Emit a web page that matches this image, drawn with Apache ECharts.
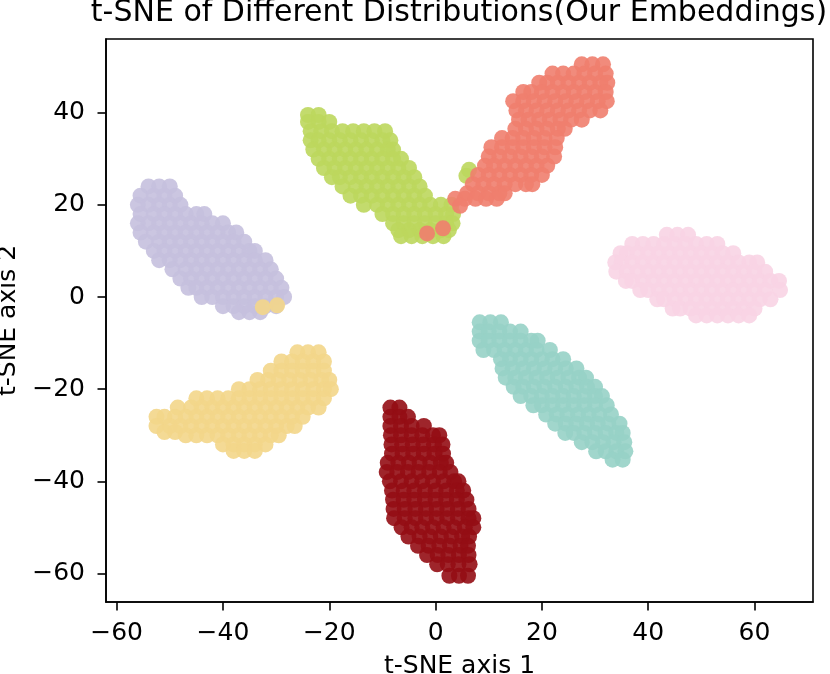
<!DOCTYPE html>
<html>
<head>
<meta charset="utf-8">
<script src="https://cdn.jsdelivr.net/npm/echarts@6/dist/echarts.min.js"></script>
<style>
  html, body { margin: 0; padding: 0; background: #fff; }
  #chart { width: 830px; height: 674px; }
</style>
</head>
<body>
<div id="chart"></div>
<script>
// Axis ticks
const xTicks = [-60, -40, -20, 0, 20, 40, 60];
const yTicks = [-60, -40, -20, 0, 20, 40];

// Clusters: each row is [y, [x, x, ...]]
const lavenderRows = [
	[24, [-54, -52, -50]],
	[22, [-55.5, -53, -51, -49]],
	[20, [-56, -54, -52, -50, -48]],
	[18, [-55.5, -53, -51, -49, -47, -45, -43.5]],
	[16, [-56, -54, -52, -50, -48, -46, -44, -42, -40]],
	[14, [-55.5, -53, -51, -49, -47, -45, -43, -41, -39, -37.5]],
	[12, [-54.5, -52, -50, -48, -46, -44, -42, -40, -38, -36]],
	[10, [-53, -51, -49, -47, -45, -43, -41, -39, -37, -35, -34]],
	[8, [-52, -50, -48, -46, -44, -42, -40, -38, -36, -34, -32]],
	[6, [-49.5, -47, -45, -43, -41, -39, -37, -35, -33, -31]],
	[4, [-48, -46, -44, -42, -40, -38, -36, -34, -32, -30]],
	[2, [-46.5, -45, -43, -41, -39, -37, -35, -33, -31, -29]],
	[0, [-44, -42, -40, -38, -36, -34, -32, -30, -28.5]],
	[-2, [-40, -38, -36, -34, -32, -30]],
	[-3.3, [-37, -35, -33]]
];

const yellowRows = [
	[-12, [-26, -24, -22]],
	[-14, [-29, -27, -25, -23, -21]],
	[-16, [-31, -29, -27, -25, -23, -21]],
	[-18, [-33.5, -31.5, -29.5, -27.5, -25.5, -23.5, -21.5, -20]],
	[-20, [-37, -35, -33, -31, -29, -27, -25, -23, -21, -19.7]],
	[-22, [-45, -43, -41, -39, -37, -35, -33, -31, -29, -27, -25, -23, -21]],
	[-24, [-48.5, -46, -44, -42, -40, -38, -36, -34, -32, -30, -28, -26, -24, -22]],
	[-26, [-52.5, -51, -49, -47, -45, -43, -41, -39, -37, -35, -33, -31, -29, -27, -25]],
	[-28, [-52.5, -50, -48, -46, -44, -42, -40, -38, -36, -34, -32, -30, -28, -26.5]],
	[-29.3, [-51, -49]],
	[-30, [-47, -45, -43, -41, -39, -37, -35, -33, -31, -29.5]],
	[-32, [-40, -38, -36, -34, -32]],
	[-33.4, [-38, -36, -34]]
];
// a few yellow points sitting inside the lavender cluster
const yellowStray = [[-32.5, -2.2], [-29.8, -1.8]];

const greenRows = [
	[39.5, [-24, -22]],
	[38, [-24, -22, -20]],
	[36, [-23.5, -21.5, -19.5, -17.5, -15.5, -13.5, -11.5, -9.5]],
	[34, [-23.5, -22, -20, -18, -16, -14, -12, -10, -8.5]],
	[32, [-23, -21, -19, -17, -15, -13, -11, -9, -8]],
	[30, [-22, -20, -18, -16, -14, -12, -10, -8, -6.5]],
	[28, [-21, -19, -17, -15, -13, -11, -9, -7, -5]],
	[26, [-19.5, -18, -16, -14, -12, -10, -8, -6, -4]],
	[24, [-17.5, -15, -13, -11, -9, -7, -5, -3]],
	[22, [-16, -14, -12, -10, -8, -6, -4, -2]],
	[20, [-13.5, -11, -9, -7, -5, -3, -1, 1, 3]],
	[18, [-10, -8, -6, -4, -2, 0, 2, 3.3]],
	[16, [-8, -6, -4, -2, 0, 2, 3.2]],
	[14.5, [-7, -5, -3, -1, 1, 2.5]],
	[13.2, [-6.5, -4.5, -2.5, -0.5, 1.5]]
];
// green points peeking out from behind the salmon cluster
const greenStray = [[5.8, 26.3], [6.3, 27.6]];

const salmonRows = [
	[50.5, [27.5, 29.5, 31.5]],
	[48.5, [22, 24, 26, 28, 30, 32]],
	[46.5, [19.5, 21, 23, 25, 27, 29, 31, 32.3]],
	[44.5, [16.5, 18, 20, 22, 24, 26, 28, 30, 32]],
	[42.5, [14.6, 16.5, 18.5, 20.5, 22.5, 24.5, 26.5, 28.5, 30.5, 32.2]],
	[40.5, [15.2, 17, 19, 21, 23, 25, 27, 29, 31]],
	[38.5, [15.7, 17.5, 19.5, 21.5, 23.5, 25.5, 27.5]],
	[36.5, [15, 17, 19, 21, 23, 24.3]],
	[34.5, [12.5, 14.5, 16.5, 18.5, 20.5, 22.8]],
	[32.5, [10.5, 12.5, 14.5, 16.5, 18.5, 20.5, 22.5]],
	[30.5, [10, 12, 14, 16, 18, 20, 22.3]],
	[28.5, [9.3, 11, 13, 15, 17, 19, 21]],
	[26.5, [8, 10, 12, 14, 16, 18, 20]],
	[24.5, [7, 9, 11, 13, 15, 17, 18.2]],
	[22.5, [5.9, 8, 10, 12, 13]],
	[21.3, [3.7, 5.5, 7.5, 9.5, 11.5]],
	[19.8, [4.6]]
];
// salmon points lying on the green cluster
const salmonStray = [[-1.6, 13.8], [1.4, 14.9]];

const pinkRows = [
	[13.5, [43.5, 45.5, 47.5]],
	[11.5, [37, 39, 41, 43, 45, 47, 49, 51, 53]],
	[9.5, [34.8, 36, 38, 40, 42, 44, 46, 48, 50, 52, 54, 56]],
	[7.5, [33.8, 35, 37, 39, 41, 43, 45, 47, 49, 51, 53, 55, 57, 59, 60.5]],
	[5.5, [34, 36, 38, 40, 42, 44, 46, 48, 50, 52, 54, 56, 58, 60, 62]],
	[3.5, [35.8, 37, 39, 41, 43, 45, 47, 49, 51, 53, 55, 57, 59, 61, 63, 64.6]],
	[1.5, [38.5, 40, 42, 44, 46, 48, 50, 52, 54, 56, 58, 60, 62, 64.8]],
	[-0.5, [41.7, 43, 45, 47, 49, 51, 53, 55, 57, 59, 61, 63]],
	[-2.5, [44.6, 46, 48, 50, 52, 54, 56, 58, 60]],
	[-4, [49, 51, 53, 55, 57, 59]]
];

const tealRows = [
	[-5.5, [8.3, 10.3, 12.3]],
	[-7.5, [8.3, 10, 12, 14, 16]],
	[-9.5, [8.3, 10, 12, 14, 16, 18, 19.2]],
	[-11.5, [9, 11, 13, 15, 17, 19, 21.5]],
	[-13.5, [12.3, 14, 16, 18, 20, 22, 24]],
	[-15.5, [12.6, 14.5, 16.5, 18.5, 20.5, 22.5, 24.5, 26.5]],
	[-17.5, [13.2, 15, 17, 19, 21, 23, 25, 27, 28.3]],
	[-19.5, [14.7, 16.5, 18.5, 20.5, 22.5, 24.5, 26.5, 28.5, 30]],
	[-21.5, [16, 18, 20, 22, 24, 26, 28, 30, 31.3]],
	[-23.5, [18.4, 20, 22, 24, 26, 28, 30, 32.2]],
	[-25.5, [20.8, 22.8, 24.8, 26.8, 28.8, 30.8, 33]],
	[-27.5, [22.5, 24.5, 26.5, 28.5, 30.5, 32.5, 34.6]],
	[-29.5, [24.4, 26, 28, 30, 32, 34, 35.2]],
	[-31.5, [27.5, 29.5, 31.5, 33.5, 35.5]],
	[-33.5, [30.2, 32, 34, 35.7]],
	[-35.3, [33.3, 35.2]]
];

const darkRedRows = [
	[-24, [-8.5, -6.8]],
	[-26, [-8.5, -6.8, -5.2]],
	[-28, [-8.5, -6.5, -4.5, -2.2]],
	[-30, [-8.4, -6.5, -4.5, -2.5, -0.5, 0.7]],
	[-32, [-8.3, -6.3, -4.3, -2.3, -0.3, 1.3]],
	[-34, [-8.2, -6.2, -4.2, -2.2, -0.2, 1.4]],
	[-36, [-9, -7, -5, -3, -1, 1, 2]],
	[-38, [-9.2, -7.2, -5.2, -3.2, -1.2, 0.8, 2.8]],
	[-40, [-8.6, -6.5, -4.5, -2.5, -0.5, 1.5, 3.5, 4.3]],
	[-42, [-8.2, -6, -4, -2, 0, 2, 4, 5.2]],
	[-44, [-8, -6, -4, -2, 0, 2, 4, 5.8]],
	[-46, [-7.9, -5.8, -3.8, -1.8, 0.2, 2.2, 4.2, 6.2]],
	[-48, [-7.8, -5.8, -3.8, -1.8, 0.2, 2.2, 4.2, 6.2, 7.1]],
	[-50, [-6.4, -4.5, -2.5, -0.5, 1.5, 3.5, 5.5, 7.1]],
	[-52, [-5.1, -3, -1, 1, 3, 5, 6.3]],
	[-54, [-3.3, -1.3, 0.7, 2.7, 4.7, 6.1]],
	[-56, [-1.6, 0.4, 2.4, 4.4, 6.2]],
	[-58, [0.3, 2.3, 4.3, 6.4]],
	[-60.5, [2.6, 4.4, 6.1]]
];

// ----------------------
// Helpers
// ----------------------
const FONT = 'DejaVu Sans';
const TITLE = 't-SNE of Different Distributions(Our Embeddings)';

// rows [y, [x...]] -> [[x, y], ...]
function rowsToPoints(rows) {
	return rows.flatMap(([y, xs]) => xs.map(x => [x, y]));
}

function minusSign(v) {
	return String(v).replace('-', '\u2212');
}

function scatterSeries(name, points, color) {
	return {
		name: name,
		type: 'scatter',
		data: points,
		symbolSize: 16,
		silent: true,
		itemStyle: { color: color, opacity: 0.9 }
	};
}

// ----------------------
// Chart
// ----------------------
const chart = echarts.init(document.getElementById('chart'), null, { renderer: 'canvas' });

const option = {
	animation: false,
	backgroundColor: '#fff',
	// title drawn as a graphic text so it centres over the plot area, not the page
	graphic: [{
		type: 'text',
		x: 459, y: -2,
		silent: true,
		style: {
			text: TITLE,
			fill: '#000',
			font: '30px "DejaVu Sans"',
			textAlign: 'center',
			textVerticalAlign: 'top'
		}
	}],
	grid: {
		left: 106, right: 17, top: 39, bottom: 72,
		outerBoundsMode: 'none', containLabel: false,
		show: true, borderColor: '#000', borderWidth: 1.6
	},
	xAxis: {
		type: 'value', min: -62, max: 71,
		name: 't-SNE axis 1', nameLocation: 'middle', nameGap: 52,
		nameTextStyle: { fontFamily: FONT, fontSize: 25, color: '#000' },
		axisLine: { show: true, onZero: false, lineStyle: { color: '#000', width: 1.6 } },
		axisTick: { show: true, length: 8.5, customValues: xTicks, lineStyle: { color: '#000', width: 1.6 } },
		axisLabel: { customValues: xTicks, fontFamily: FONT, fontSize: 25, color: '#000', margin: 19, formatter: minusSign },
		splitLine: { show: false }
	},
	yAxis: {
		type: 'value', min: -66.2, max: 56,
		name: 't-SNE axis 2', nameLocation: 'middle', nameGap: 80, nameRotate: 90,
		nameTextStyle: { fontFamily: FONT, fontSize: 25, color: '#000' },
		axisLine: { show: true, onZero: false, lineStyle: { color: '#000', width: 1.6 } },
		axisTick: { show: true, length: 8.5, customValues: yTicks, lineStyle: { color: '#000', width: 1.6 } },
		axisLabel: { customValues: yTicks, fontFamily: FONT, fontSize: 25, color: '#000', margin: 21, formatter: minusSign },
		splitLine: { show: false }
	},
	series: [
		scatterSeries('lavender', rowsToPoints(lavenderRows), '#c5c0de'),
		scatterSeries('yellow', rowsToPoints(yellowRows).concat(yellowStray), '#f3d68a'),
		scatterSeries('green', rowsToPoints(greenRows).concat(greenStray), '#bcd75d'),
		scatterSeries('salmon', rowsToPoints(salmonRows).concat(salmonStray), '#f07e6e'),
		scatterSeries('pink', rowsToPoints(pinkRows), '#f8d4e4'),
		scatterSeries('teal', rowsToPoints(tealRows), '#97d2c7'),
		scatterSeries('darkred', rowsToPoints(darkRedRows), '#940d14')
	]
};

chart.setOption(option);
</script>
</body>
</html>
